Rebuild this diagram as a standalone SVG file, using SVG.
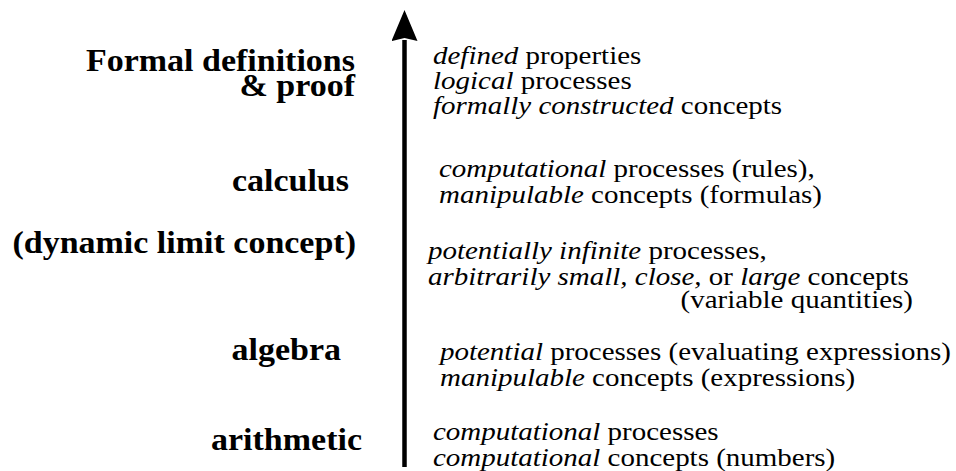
<svg xmlns="http://www.w3.org/2000/svg" width="956" height="471" viewBox="0 0 956 471">
<style>
.lbl{font-family:'Liberation Serif','DejaVu Serif',serif;font-weight:700;font-size:32px;fill:#000;text-anchor:end}
.desc{font-family:'Liberation Serif','DejaVu Serif',serif;font-size:26px;fill:#000}
.i{font-style:italic}
</style>
<defs>
<marker id="ah" markerUnits="userSpaceOnUse" markerWidth="32" markerHeight="26" viewBox="0 0 32 26" refX="1" refY="13" orient="auto">
<path d="M0,0 L31,13 L0,26 L3,13 Z" fill="#000"/>
</marker>
</defs>
<rect width="956" height="471" fill="#fff"/>
<g id="connectors">
<path d="M404.5,467 V40" stroke="#000" stroke-width="4.5" fill="none" marker-end="url(#ah)"/>
</g>
<g id="formal">
<text class="lbl" x="355" y="71" transform="matrix(1.0625 0 0 1 -22.1875 0)">Formal definitions</text>
<text class="lbl" x="355" y="96" transform="matrix(1.0625 0 0 1 -22.1875 0)">&amp; proof</text>
<text class="desc" x="433" y="64" transform="matrix(1.115 0 0 1 -49.795 0)"><tspan class="i">defined</tspan> properties</text>
<text class="desc" x="433" y="89" transform="matrix(1.115 0 0 1 -49.795 0)"><tspan class="i">logical</tspan> processes</text>
<text class="desc" x="433" y="114" transform="matrix(1.115 0 0 1 -49.795 0)"><tspan class="i">formally constructed</tspan> concepts</text>
</g>
<g id="calculus">
<text class="lbl" x="349" y="191" transform="matrix(1.0625 0 0 1 -21.8125 0)">calculus</text>
<text class="desc" x="439" y="177" transform="matrix(1.115 0 0 1 -50.485 0)"><tspan class="i">computational</tspan> processes (rules),</text>
<text class="desc" x="439" y="203" transform="matrix(1.115 0 0 1 -50.485 0)"><tspan class="i">manipulable</tspan> concepts (formulas)</text>
</g>
<g id="dynamic">
<text class="lbl" x="356" y="253" transform="matrix(1.0625 0 0 1 -22.25 0)">(dynamic limit concept)</text>
<text class="desc" x="428" y="259" transform="matrix(1.115 0 0 1 -49.22 0)"><tspan class="i">potentially infinite</tspan> processes,</text>
<text class="desc" x="428" y="285" transform="matrix(1.115 0 0 1 -49.22 0)"><tspan class="i">arbitrarily small, close,</tspan> or <tspan class="i">large</tspan> concepts</text>
<text class="desc" x="913" y="308" text-anchor="end" transform="matrix(1.115 0 0 1 -104.995 0)">(variable quantities)</text>
</g>
<g id="algebra">
<text class="lbl" x="341" y="360" transform="matrix(1.0625 0 0 1 -21.3125 0)">algebra</text>
<text class="desc" x="440" y="360" transform="matrix(1.115 0 0 1 -50.6 0)"><tspan class="i">potential</tspan> processes (evaluating expressions)</text>
<text class="desc" x="440" y="386" transform="matrix(1.115 0 0 1 -50.6 0)"><tspan class="i">manipulable</tspan> concepts (expressions)</text>
</g>
<g id="arithmetic">
<text class="lbl" x="362" y="450" transform="matrix(1.0625 0 0 1 -22.625 0)">arithmetic</text>
<text class="desc" x="433" y="440" transform="matrix(1.115 0 0 1 -49.795 0)"><tspan class="i">computational</tspan> processes</text>
<text class="desc" x="433" y="466" transform="matrix(1.115 0 0 1 -49.795 0)"><tspan class="i">computational</tspan> concepts (numbers)</text>
</g>
</svg>
